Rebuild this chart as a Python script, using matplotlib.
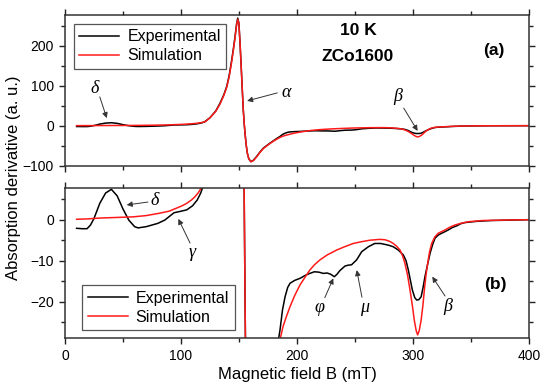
import matplotlib
matplotlib.use("Agg")
import matplotlib.pyplot as plt
from matplotlib.ticker import MultipleLocator

plt.rcParams['font.family'] = ['Liberation Sans', 'DejaVu Sans']

# ---------------- data ----------------
b_exp = [10, 15, 19, 22, 25, 30, 35, 40, 45, 50, 55, 60, 63, 70, 75, 80, 86, 90, 94, 99,
         105, 110, 114, 117, 120, 125, 130, 133.6, 137, 139.4, 141.5, 143.7, 145.3, 146.6,
         147.8, 148.9, 149.9, 150.9, 151.6, 152.3, 153, 153.7, 154.5, 155.2, 156.2, 157.2,
         158.5, 160.3, 162.5, 165.2, 168, 171, 176, 180, 183, 185.3, 187.5, 189.7, 192, 194,
         198, 202.6, 207, 211, 215, 219, 222.7, 226, 229, 232.2, 234.5, 237, 241.4, 244, 247,
         251.4, 255.8, 261.5, 267, 272, 278.7, 283, 287.3, 291.7, 294, 296, 299.4, 301.5,
         303.2, 305, 307, 308.7, 310.3, 312.5, 314.7, 317, 319, 322, 324.7, 327, 330.4, 334,
         337.7, 341, 344.8, 355, 367.8, 385, 400]
exp = [-2.1, -2.2, -2.2, -1.3, 0.3, 4.0, 6.5, 7.4, 5.8, 2.6, -0.1, -1.7, -2.0, -1.7, -1.3,
       -0.9, -0.1, 0.8, 1.7, 2.0, 2.4, 3.4, 4.8, 6.5, 9, 20, 37, 56, 78, 98, 125, 164, 195,
       223, 252, 269, 257, 206, 165, 123, 80, 39, 5, -19, -48, -69, -83, -90, -86, -77, -66,
       -56, -45, -37, -31, -27, -22, -18.8, -16.5, -15.5, -14.8, -14.3, -13.6, -13.1, -12.7,
       -12.8, -13.1, -13.0, -13.3, -13.9, -13.3, -12.4, -11.3, -11.1, -11.0, -9.8, -7.8,
       -6.6, -5.8, -5.8, -6.2, -6.6, -7.4, -8.6, -10, -12.3, -17.1, -19.0, -19.6, -19.5,
       -18.8, -16.5, -13.9, -11, -8.2, -6.0, -4.5, -3.7, -3.3, -3.0, -2.5, -1.9, -1.5, -1.0,
       -0.7, -0.4, -0.2, -0.1, 0.0]

b_sim = [10, 20, 30, 40, 50, 59, 70, 82, 90, 96, 101, 105, 109, 112, 115, 118, 121, 125,
         130, 133.6, 137, 139.4, 141.5, 143.7, 145.3, 146.6, 147.8, 148.9, 149.9, 150.9,
         151.6, 152.3, 153, 153.7, 154.5, 155.2, 156.2, 157.2, 158.5, 160.3, 162.5, 165.2,
         168, 171, 176, 180, 183, 185.3, 188, 191, 194, 198, 202.6, 207, 211, 215, 219.8, 226,
         234.2, 241, 248.5, 255, 262.9, 271.5, 276, 280, 283, 286, 288.8, 291, 293, 295.3,
         297.4, 299.5, 301.1, 302.7, 304, 305.4, 307, 308.5, 309.8, 311.2, 312.7, 314.3,
         316.1, 318.8, 321.8, 327.6, 332, 336.2, 341, 347.7, 360, 378, 400]
sim = [0.1, 0.2, 0.4, 0.5, 0.6, 0.7, 1.0, 1.6, 2.1, 2.8, 3.4, 4.0, 4.8, 5.6, 6.6, 8.0, 10,
       20, 36, 54, 76, 96, 122, 160, 192, 220, 249, 266, 255, 206, 165, 123, 80, 39, 5, -19,
       -48, -69, -83, -90, -87, -78, -67, -57, -46, -38, -33, -29.3, -26, -23.5, -21.2,
       -18.5, -15.9, -14, -12.3, -11, -9.8, -8.6, -7.4, -6.6, -5.8, -5.4, -5.0, -4.8, -4.9,
       -5.3, -5.8, -6.5, -7.4, -8.8, -10.6, -13.5, -17.1, -21, -24.5, -27, -28.1, -27,
       -24.5, -21, -17.1, -13.5, -10.6, -7.8, -5.8, -4.2, -3.3, -2.5, -1.8, -1.3, -0.9,
       -0.5, -0.2, -0.1, 0.0]

series_labels = ["Experimental", "Simulation"]
x_label = "Magnetic field B (mT)"
y_label = "Absorption derivative (a. u.)"

# ---------------- figure ----------------
W, H = 550, 391
fig = plt.figure(figsize=(W / 100, H / 100), dpi=100)

def px_axes(x0, y0, x1, y1):
    return fig.add_axes([x0 / W, 1 - y1 / H, (x1 - x0) / W, (y1 - y0) / H])

ax1 = px_axes(65, 14.7, 529, 165.7)
ax2 = px_axes(65, 187.5, 529, 338)

for ax in (ax1, ax2):
    ax.plot(b_exp, exp, color='black', lw=1.1, label=series_labels[0])
    ax.plot(b_sim, sim, color='#ff1a1a', lw=1.1, label=series_labels[1])
    ax.set_xlim(0, 400)
    ax.xaxis.set_major_locator(MultipleLocator(100))
    ax.xaxis.set_minor_locator(MultipleLocator(50))
    ax.tick_params(which='both', direction='out', top=True, right=True,
                   labelsize=10, width=1.0, color='#222222')
    ax.tick_params(which='major', length=4.5)
    ax.tick_params(which='minor', length=3)
    for s in ax.spines.values():
        s.set_linewidth(1.1)
        s.set_color('#333333')

ax1.set_ylim(-100, 277.5)
ax1.yaxis.set_major_locator(MultipleLocator(100))
ax1.yaxis.set_minor_locator(MultipleLocator(50))
ax1.tick_params(labelbottom=False)

ax2.set_ylim(-28.85, 7.85)
ax2.yaxis.set_major_locator(MultipleLocator(10))
ax2.yaxis.set_minor_locator(MultipleLocator(5))

leg_kw = dict(frameon=True, fancybox=False, edgecolor='#555555', framealpha=1,
              fontsize=11.5, handlelength=2.5, handletextpad=0.5, borderaxespad=0,
              borderpad=0.35, labelspacing=0.25)
l1 = ax1.legend(loc='upper left', bbox_to_anchor=(0.019, 0.94), **leg_kw)
l2 = ax2.legend(loc='upper left', bbox_to_anchor=(0.037, 0.352), **leg_kw)
for l in (l1, l2):
    l.get_frame().set_linewidth(0.9)

# text annotations
ax1.text(252.6, 237, "10 K", fontsize=12.5, fontweight='bold', ha='center', va='center')
ax1.text(252.6, 172, "ZCo1600", fontsize=12.5, fontweight='bold', ha='center', va='center')
ax1.text(370, 189, "(a)", fontsize=12.5, fontweight='bold', ha='center', va='center')
ax2.text(370.7, -15.9, "(b)", fontsize=12.5, fontweight='bold', ha='center', va='center')

greek = dict(fontsize=13, family=['Liberation Serif', 'DejaVu Serif'], style='italic',
             ha='center', va='center')
arrow = dict(arrowstyle='-|>', color='#333333', lw=0.7, mutation_scale=8,
             shrinkA=0, shrinkB=0)

def note(ax, txt, tpos, tail, head):
    ax.text(tpos[0], tpos[1], txt, **greek)
    ax.annotate("", xy=head, xytext=tail, arrowprops=arrow)

note(ax1, "δ", (25.9, 94), (30, 72), (36, 19))
note(ax1, "α", (191, 82), (183, 82), (157, 62))
note(ax1, "β", (287, 72), (292, 44), (304, -13))

note(ax2, "δ", (77.6, 4.8), (71.5, 4.3), (53.2, 3.6))
note(ax2, "γ", (110, -8.1), (107.8, -5.7), (97.7, 0.2))
note(ax2, "φ", (219.8, -21.5), (224, -19), (231.3, -14.3))
note(ax2, "μ", (258.6, -21.5), (256, -18.9), (251.5, -12.3))
note(ax2, "β", (330, -21.2), (327.6, -18.6), (316.6, -13.9))

fig.text(297 / W, 1 - 375 / H, x_label, fontsize=12, ha='center', va='center')
fig.text(14 / W, 1 - 178 / H, y_label, fontsize=12, ha='center', va='center', rotation=90)

fig.savefig("out.png", dpi=100)
